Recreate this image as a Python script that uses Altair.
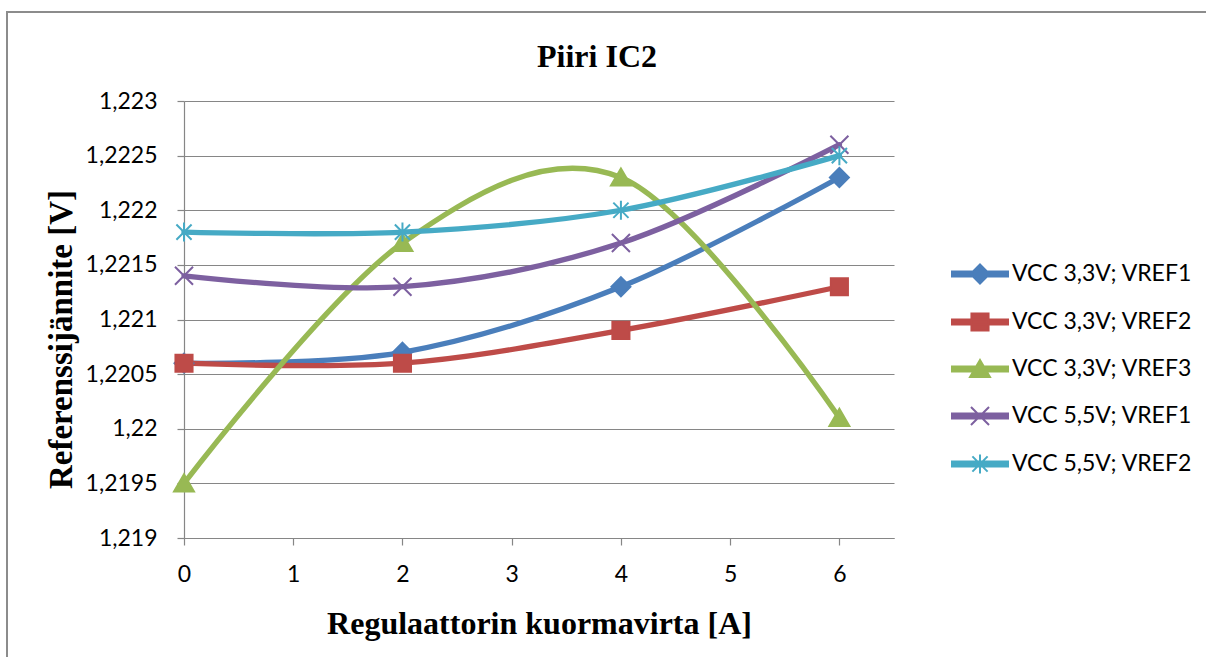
import re
import altair as alt
import pandas as pd

# Load current of the regulator [A]
load_current = [0, 2, 4, 6]

# Reference voltage [V] per measurement series
series_names = [
    "VCC 3,3V; VREF1",
    "VCC 3,3V; VREF2",
    "VCC 3,3V; VREF3",
    "VCC 5,5V; VREF1",
    "VCC 5,5V; VREF2",
]
vcc33_vref1 = [1.2206, 1.2207, 1.2213, 1.2223]
vcc33_vref2 = [1.2206, 1.2206, 1.2209, 1.2213]
vcc33_vref3 = [1.2195, 1.2217, 1.2223, 1.2201]
vcc55_vref1 = [1.2214, 1.2213, 1.2217, 1.2226]
vcc55_vref2 = [1.2218, 1.2218, 1.2220, 1.2225]

y_ticks = [1.219, 1.2195, 1.22, 1.2205, 1.221, 1.2215, 1.222, 1.2225, 1.223]
x_ticks = [0, 1, 2, 3, 4, 5, 6]

series_colors = ["#4A7EBB", "#BE4B48", "#98B954", "#7D60A0", "#46AAC5"]

# Marker outlines in a unit box (-1..1)
marker_paths = [
    "M0,-1L1,0L0,1L-1,0Z",                                   # diamond
    "M-0.9,-0.9L0.9,-0.9L0.9,0.9L-0.9,0.9Z",                 # square
    "M0,-0.95L1.05,0.85L-1.05,0.85Z",                        # triangle
    "M-0.95,-0.95L0.95,0.95M-0.95,0.95L0.95,-0.95",          # x
    "M-0.8,-0.8L0.8,0.8M-0.8,0.8L0.8,-0.8M0,-1L0,1",         # asterisk
]

MARKER_HALF = 9.5          # px
LEGEND_HALF = 28.0         # px, half length of the legend line sample
LINE_HALF = 2.6            # px, half thickness of the legend line sample


def scale_path(path, k):
    return re.sub(r"-?\d+(?:\.\d+)?", lambda m: f"{float(m.group()) * k:.4f}", path)


# legend samples: a short line segment with the series marker on top
t = LINE_HALF / LEGEND_HALF
line_piece = f"M-1,{-t:.4f}L1,{-t:.4f}L1,{t:.4f}L-1,{t:.4f}Z"
legend_paths = [line_piece + scale_path(p, MARKER_HALF / LEGEND_HALF) for p in marker_paths]

rows = []
for name, vals in zip(
    series_names, [vcc33_vref1, vcc33_vref2, vcc33_vref3, vcc55_vref1, vcc55_vref2]
):
    for xv, yv in zip(load_current, vals):
        rows.append({"series": name, "current": xv, "voltage": yv})
df = pd.DataFrame(rows)

x_enc = alt.X(
    "current:Q",
    scale=alt.Scale(domain=[0, 6.5], nice=False, zero=False),
    axis=alt.Axis(
        values=x_ticks,
        title="Regulaattorin kuormavirta [A]",
        grid=False,
        labelFont="Lato",
        labelFontSize=23,
        labelColor="black",
        labelPadding=18,
        labelFlush=False,
        labelBaseline="top",
        titleFont="Liberation Serif",
        titleFontSize=32,
        titleFontWeight="bold",
        titleColor="black",
        titleBaseline="alphabetic",
        titleX=355,
        titleY=95,
    ),
)
y_enc = alt.Y(
    "voltage:Q",
    scale=alt.Scale(domain=[1.219, 1.223], nice=False, zero=False),
    axis=alt.Axis(
        values=y_ticks,
        title="Referenssijännite [V]",
        labelExpr="replace(format(datum.value, '.4~f'), '.', ',')",
        labelFont="Lato",
        labelFontSize=23,
        labelColor="black",
        labelPadding=20,
        labelFlush=False,
        titleFont="Liberation Serif",
        titleFontSize=33,
        titleFontWeight="bold",
        titleColor="black",
        titleAngle=270,
        titleAlign="center",
        titleBaseline="alphabetic",
        titleX=-113,
        titleY=238,
    ),
)


def color_scale():
    return alt.Scale(domain=series_names, range=series_colors)


frame = (
    alt.Chart(pd.DataFrame({"k": [0]}))
    .mark_rect(fill=None, stroke="#8C8C8C", strokeWidth=2)
    .encode(
        x=alt.value(-177),
        x2=alt.value(1030),
        y=alt.value(-89),
        y2=alt.value(565),
    )
)

title = (
    alt.Chart(pd.DataFrame({"label": ["Piiri IC2"]}))
    .mark_text(
        font="Liberation Serif",
        fontSize=32,
        fontWeight="bold",
        color="black",
        align="center",
        baseline="alphabetic",
    )
    .encode(text="label:N", x=alt.value(413), y=alt.value(-34))
)

lines = (
    alt.Chart(df)
    .mark_line(interpolate="cardinal", strokeWidth=5.3, strokeCap="round", strokeJoin="round")
    .encode(
        x=x_enc,
        y=y_enc,
        color=alt.Color("series:N", scale=color_scale(), sort=series_names, legend=None),
        order="current:Q",
    )
)

points = (
    alt.Chart(df)
    .mark_point(filled=True, size=(2 * MARKER_HALF) ** 2, strokeWidth=2, opacity=1)
    .encode(
        x=x_enc,
        y=y_enc,
        fill=alt.Fill("series:N", scale=color_scale(), sort=series_names, legend=None),
        stroke=alt.Stroke("series:N", scale=color_scale(), sort=series_names, legend=None),
        shape=alt.Shape(
            "series:N",
            scale=alt.Scale(domain=series_names, range=marker_paths),
            legend=None,
        ),
    )
)

legend_spec = alt.Legend(
    title=None,
    orient="none",
    legendX=767,
    legendY=144,
    symbolSize=(2 * LEGEND_HALF) ** 2,
    symbolStrokeWidth=2,
    symbolOpacity=1,
    labelFont="Lato",
    labelFontSize=23,
    labelColor="black",
    labelOffset=3,
    labelLimit=400,
    rowPadding=5,
)

# legend-only layer: no rows survive the filter, the scales carry the entries
legend_layer = (
    alt.Chart(df)
    .transform_filter("datum.current < 0")
    .mark_point(filled=True, opacity=1)
    .encode(
        x=x_enc,
        y=y_enc,
        fill=alt.Fill("series:N", scale=color_scale(), sort=series_names, legend=legend_spec),
        stroke=alt.Stroke("series:N", scale=color_scale(), sort=series_names, legend=legend_spec),
        shape=alt.Shape(
            "series:N",
            scale=alt.Scale(domain=series_names, range=legend_paths),
            sort=series_names,
            legend=legend_spec,
        ),
    )
)

chart = (
    alt.layer(frame, title, lines, points, legend_layer)
    .resolve_scale(shape="independent", fill="independent", stroke="independent")
    .properties(
        width=710,
        height=437,
        padding={"left": 184, "top": 101, "right": 312, "bottom": 119},
        autosize=alt.AutoSizeParams(type="none"),
        background="white",
    )
    .configure_view(stroke=None)
    .configure_axis(
        domainColor="#868686",
        tickColor="#868686",
        gridColor="#868686",
        domainWidth=1.2,
        tickWidth=1.2,
        gridWidth=1.2,
        tickSize=7,
    )
)

chart.save("out.html", embed_options={"renderer": "svg", "actions": False})
